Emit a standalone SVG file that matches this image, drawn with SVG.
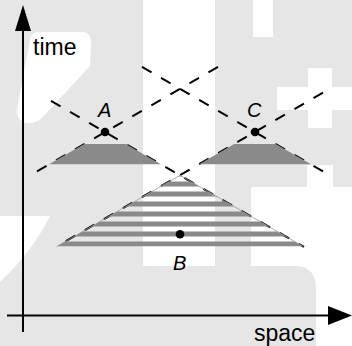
<svg xmlns="http://www.w3.org/2000/svg" width="352" height="346" viewBox="0 0 352 346">
<style>
.wm{fill:#e6e6e6}
.wh{fill:#ffffff}
.axis{stroke:#000;stroke-width:2;fill:none}
.cone{stroke:#000;stroke-width:2;stroke-dasharray:11 11;fill:none}
.shade{fill:#8a8a8a}
.lbl{font-family:"Liberation Sans",Arial,sans-serif;fill:#000}
.ev{font-family:"Liberation Sans",Arial,sans-serif;font-style:italic;font-size:20px;fill:#000}
</style>
<defs>
<clipPath id="clipB"><polygon points="180,175.3 303.3,246.5 56.7,246.5"/></clipPath>
</defs>
<rect width="352" height="346" fill="#fff"/>
<g id="watermark">
<rect class="wm" x="0" y="0" width="143" height="346"/>
<path class="wh" d="M36,32 L84,32 Q91,33 91,42 L90,66 L40,120 Q28,127 19,119 Q15,112 18,104 L30,40 Q31,33 36,32 Z"/>
<path class="wh" d="M0,216 L50,216 Q32,252 0,282 Z"/>
<rect class="wm" x="215" y="0" width="137" height="187"/>
<rect class="wh" x="253" y="0" width="20" height="37"/>
<rect class="wh" x="308" y="68" width="24" height="60"/>
<rect class="wh" x="277" y="87" width="75" height="23"/>
<rect class="wh" x="307" y="165" width="26" height="22"/>
<rect class="wm" x="215" y="187" width="36" height="80"/>
<path class="wm" d="M143,266 L296,266 Q316,266 316,290 L316,346 L143,346 Z"/>
</g>
<g id="connectors">
<line class="cone" x1="51" y1="100.8" x2="304" y2="246.9"/>
<line class="cone" x1="323" y1="92.7" x2="57" y2="246.3"/>
<line class="cone" x1="37" y1="171.3" x2="222" y2="64.5"/>
<line class="cone" x1="323" y1="171.3" x2="138" y2="64.5"/>
</g>
<g id="pastA"><polygon class="shade" points="84.2,144 125.8,144 160.9,164.3 49.1,164.3"/></g>
<g id="pastC"><polygon class="shade" points="234.2,144 275.8,144 310.9,164.3 199.1,164.3"/></g>
<g id="coneB">
<g clip-path="url(#clipB)" class="shade">
<rect x="50" y="171.5" width="260" height="5"/>
<rect x="50" y="181.5" width="260" height="5"/>
<rect x="50" y="191.5" width="260" height="5"/>
<rect x="50" y="201.5" width="260" height="5"/>
<rect x="50" y="211.5" width="260" height="5"/>
<rect x="50" y="221.5" width="260" height="5"/>
<rect x="50" y="231.5" width="260" height="5"/>
<rect x="50" y="241.5" width="260" height="5"/>
</g>
<polyline points="56.7,246.5 180,175.3 303.3,246.5" fill="none" stroke="#999" stroke-width="0.8"/>
</g>
<g id="axes">
<line class="axis" x1="23" y1="332" x2="23" y2="28"/>
<polygon points="23,5 15,31 31,31" fill="#000"/>
<line class="axis" x1="7" y1="315.5" x2="330" y2="315.5"/>
<polygon points="352,315.5 328,306 328,325" fill="#000"/>
<text class="lbl" x="33" y="55" font-size="23">time</text>
<text class="lbl" x="254" y="341" font-size="23">space</text>
</g>
<g id="eventA"><circle cx="105" cy="132" r="4.3"/><text class="ev" x="98" y="117">A</text></g>
<g id="eventC"><circle cx="255" cy="132" r="4.3"/><text class="ev" x="247" y="117">C</text></g>
<g id="eventB"><circle cx="180" cy="234.3" r="4.3"/><text class="ev" x="173" y="269.5">B</text></g>
</svg>
